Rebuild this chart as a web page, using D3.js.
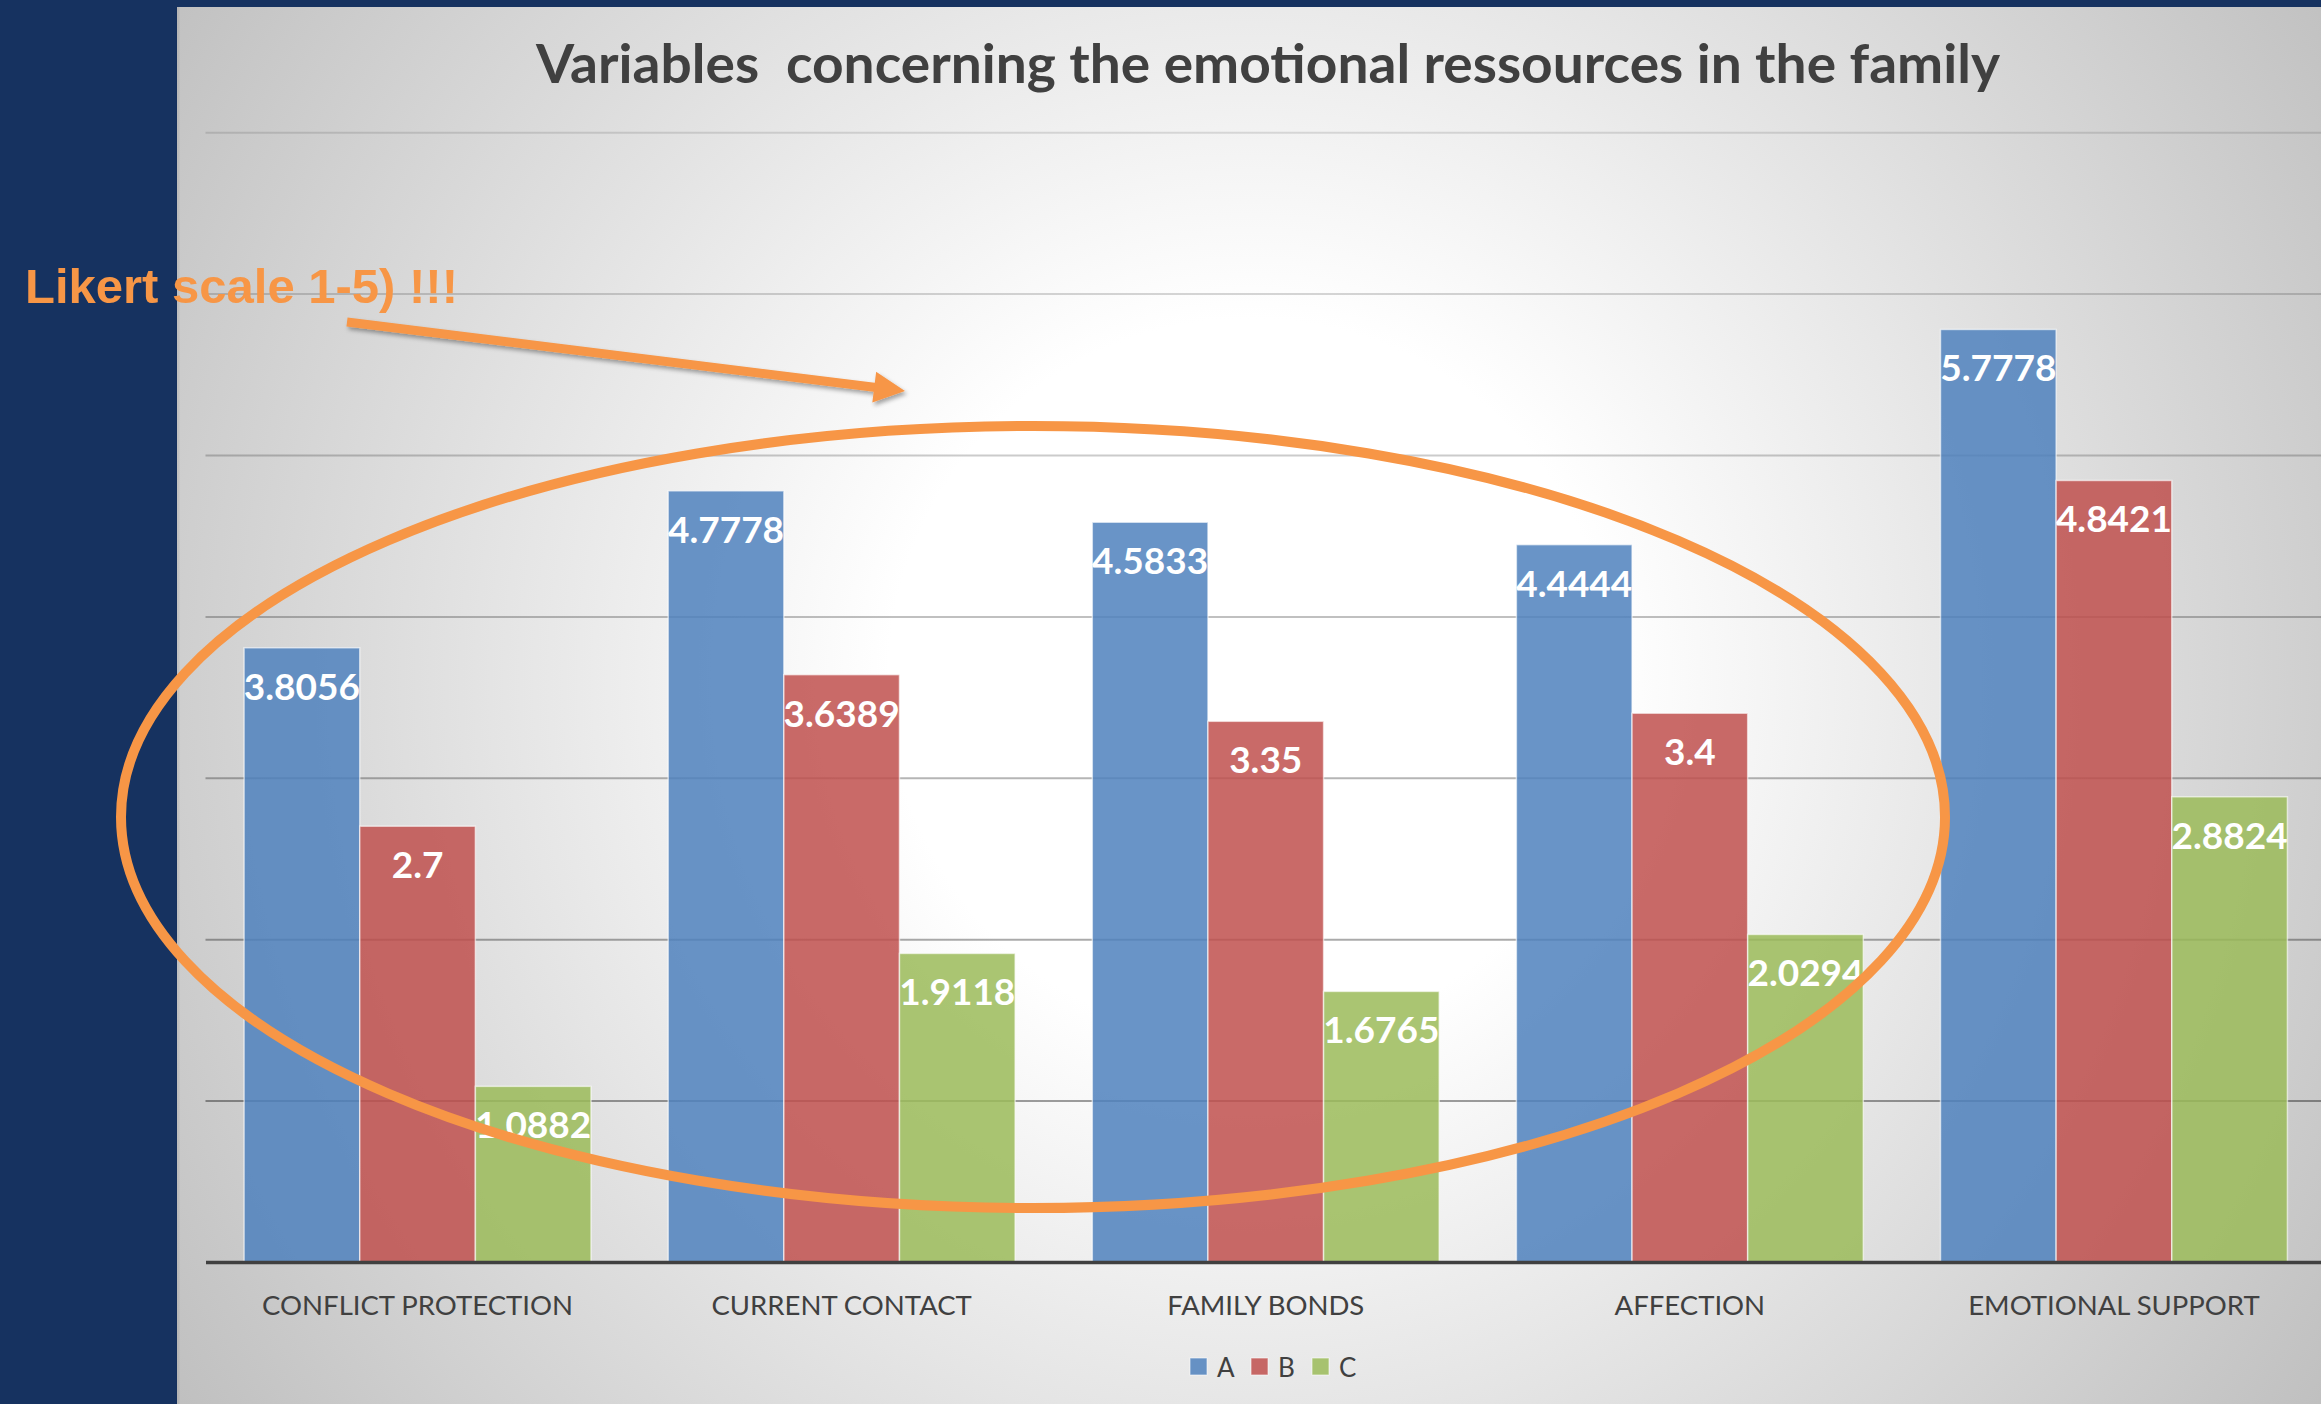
<!DOCTYPE html>
<html>
<head>
<meta charset="utf-8">
<script src="https://cdn.jsdelivr.net/npm/d3@7"></script>
<style>
  html, body { margin: 0; padding: 0; background: #163260; }
  svg { display: block; }
</style>
</head>
<body>
<div id="chart"></div>
<script>

// data
var categories   = [ 'CONFLICT PROTECTION', 'CURRENT CONTACT', 'FAMILY BONDS', 'AFFECTION', 'EMOTIONAL SUPPORT' ];
var series_names = [ 'A', 'B', 'C' ];
var values_a     = [ 3.8056, 4.7778, 4.5833, 4.4444, 5.7778 ];
var values_b     = [ 2.7, 3.6389, 3.35, 3.4, 4.8421 ];
var values_c     = [ 1.0882, 1.9118, 1.6765, 2.0294, 2.8824 ];
var grid_values  = [ 1, 2, 3, 4, 5, 6, 7 ];

var series_values = [ values_a, values_b, values_c ];
var colors        = [ '#4F81BD', '#C0504D', '#9BBB59' ];

// --------------------------------------------------------
// sizes
var chart_width   = 2321;
var chart_height  = 1404;
var panel_left    = 177;
var panel_top     = 7;
var plot_left     = 205.5;
var plot_right    = 2326;
var plot_bottom   = 1262;
var plot_top      = 132.2;

var svg = d3.select('#chart')
	.append('svg')
	.attr('width', chart_width)
	.attr('height', chart_height);

var defs = svg.append('defs');

// radial grey background of the slide chart
var grad = defs.append('radialGradient')
	.attr('id', 'bg-grad')
	.attr('gradientUnits', 'userSpaceOnUse')
	.attr('cx', 1250)
	.attr('cy', 680)
	.attr('r', 1290);
grad.append('stop').attr('offset', 0).attr('stop-color', '#ffffff');
grad.append('stop').attr('offset', 0.28).attr('stop-color', '#ffffff');
grad.append('stop').attr('offset', 1).attr('stop-color', '#c0c0c0');

var shadow = defs.append('filter')
	.attr('id', 'arrow-shadow')
	.attr('x', '-10%').attr('y', '-50%')
	.attr('width', '120%').attr('height', '200%');
shadow.append('feDropShadow')
	.attr('dx', 2).attr('dy', 3)
	.attr('stdDeviation', 2)
	.attr('flood-color', '#000')
	.attr('flood-opacity', 0.35);

svg.append('rect')
	.attr('width', chart_width)
	.attr('height', chart_height)
	.attr('fill', '#163260');

svg.append('rect')
	.attr('x', panel_left)
	.attr('y', panel_top)
	.attr('width', chart_width - panel_left)
	.attr('height', chart_height - panel_top)
	.attr('fill', 'url(#bg-grad)');

svg.append('line')
	.attr('x1', panel_left + 1).attr('x2', panel_left + 1)
	.attr('y1', panel_top).attr('y2', chart_height)
	.attr('stroke', '#000')
	.attr('stroke-opacity', 0.06)
	.attr('stroke-width', 3);

// --------------------------------------------------------
// scales
var x0 = d3.scaleBand()
	.domain(categories)
	.range([plot_left, plot_right])
	.paddingInner(0.182)
	.paddingOuter(0.091);

var x1 = d3.scaleBand()
	.domain(series_names)
	.range([0, x0.bandwidth()]);

var y_scale = d3.scaleLinear()
	.domain([0, 7])
	.range([plot_bottom, plot_top]);

// --------------------------------------------------------
// gridlines, getting darker towards the bottom
var grid_axis = d3.axisLeft(y_scale)
	.tickValues(grid_values)
	.tickSize(-(plot_right - plot_left))
	.tickFormat('');

var grid = svg.append('g')
	.attr('class', 'grid')
	.attr('transform', 'translate(' + plot_left + ',0)')
	.call(grid_axis);
grid.select('.domain').remove();
grid.selectAll('.tick line')
	.attr('stroke', '#000')
	.attr('stroke-width', 2)
	.attr('stroke-opacity', (d) => 0.42 - d * 0.043);

// --------------------------------------------------------
// bars
var rows = categories.map((c, i) => {
	return { cat: c, vals: series_names.map((s, j) => ({ s: s, j: j, v: series_values[j][i] })) };
});

var groups = svg.append('g')
	.attr('id', 'plot-area')
	.selectAll('g')
	.data(rows)
	.enter()
	.append('g')
	.attr('transform', (d) => 'translate(' + x0(d.cat) + ',0)');

groups.selectAll('rect')
	.data((d) => d.vals)
	.enter()
	.append('rect')
	.attr('x', (d) => x1(d.s))
	.attr('y', (d) => y_scale(d.v))
	.attr('width', x1.bandwidth())
	.attr('height', (d) => plot_bottom - y_scale(d.v))
	.attr('fill', (d) => colors[d.j])
	.attr('fill-opacity', 0.85)
	.attr('stroke', '#ffffff')
	.attr('stroke-opacity', 0.6)
	.attr('stroke-width', 1.5);

groups.selectAll('text')
	.data((d) => d.vals)
	.enter()
	.append('text')
	.attr('x', (d) => x1(d.s) + x1.bandwidth() / 2)
	.attr('y', (d) => y_scale(d.v) + 52)
	.attr('text-anchor', 'middle')
	.attr('font-family', 'Lato, sans-serif')
	.attr('font-weight', 'bold')
	.attr('font-size', 37)
	.attr('fill', '#ffffff')
	.text((d) => d.v);

// --------------------------------------------------------
// category axis
var x_axis = d3.axisBottom(x0)
	.tickSize(0)
	.tickSizeOuter(0);

var xg = svg.append('g')
	.attr('class', 'x-axis')
	.attr('transform', 'translate(0,' + plot_bottom + ')')
	.call(x_axis);
xg.select('.domain')
	.attr('stroke', '#404040')
	.attr('stroke-width', 3.5);
xg.selectAll('.tick text')
	.attr('y', 53)
	.attr('dy', null)
	.attr('font-family', 'Lato, sans-serif')
	.attr('font-size', 27.5)
	.attr('fill', '#404040');

// --------------------------------------------------------
// legend
var legend = svg.append('g')
	.attr('transform', 'translate(1190,1358)')
	.selectAll('g')
	.data(series_names)
	.enter()
	.append('g')
	.attr('transform', (d, i) => 'translate(' + i * 61 + ',0)');
legend.append('rect')
	.attr('width', 17)
	.attr('height', 17)
	.attr('fill', (d, i) => colors[i])
	.attr('fill-opacity', 0.85)
	.attr('stroke', '#fff')
	.attr('stroke-opacity', 0.6);
legend.append('text')
	.attr('x', 27)
	.attr('y', 19)
	.attr('font-family', 'Lato, sans-serif')
	.attr('font-size', 26)
	.attr('fill', '#404040')
	.text((d) => d);

// --------------------------------------------------------
// title
svg.append('text')
	.attr('x', 1268)
	.attr('y', 83)
	.attr('text-anchor', 'middle')
	.attr('font-family', 'Lato, sans-serif')
	.attr('font-weight', 'bold')
	.attr('font-size', 53)
	.attr('fill', '#404040')
	.attr('textLength', 1464)
	.attr('lengthAdjust', 'spacingAndGlyphs')
	.style('white-space', 'pre')
	.text('Variables  concerning the emotional ressources in the family');

// --------------------------------------------------------
// orange annotation: note, arrow, ellipse
var orange = '#F79646';

svg.append('text')
	.attr('x', 25)
	.attr('y', 303)
	.attr('font-family', '"Liberation Sans", Arial, sans-serif')
	.attr('font-weight', 'bold')
	.attr('font-size', 49)
	.attr('fill', orange)
	.style('white-space', 'pre')
	.text('Likert scale 1-5) !!!');

var a_start = [347, 322];
var a_tip   = [905, 391];
var head_len = 31, head_half = 15.5;
var ang = Math.atan2(a_tip[1] - a_start[1], a_tip[0] - a_start[0]);
var base = [a_tip[0] - head_len * Math.cos(ang), a_tip[1] - head_len * Math.sin(ang)];
var nx = -Math.sin(ang), ny = Math.cos(ang);

var arrow = svg.append('g').attr('filter', 'url(#arrow-shadow)');
arrow.append('line')
	.attr('x1', a_start[0]).attr('y1', a_start[1])
	.attr('x2', base[0] + 2 * Math.cos(ang)).attr('y2', base[1] + 2 * Math.sin(ang))
	.attr('stroke', orange)
	.attr('stroke-width', 9);
arrow.append('path')
	.attr('d', d3.line()([
		a_tip,
		[base[0] + nx * head_half, base[1] + ny * head_half],
		[base[0] - nx * head_half, base[1] - ny * head_half]
	]) + 'Z')
	.attr('fill', orange);

svg.append('ellipse')
	.attr('cx', 1033)
	.attr('cy', 817)
	.attr('rx', 912)
	.attr('ry', 391)
	.attr('fill', 'none')
	.attr('stroke', orange)
	.attr('stroke-width', 10);

</script>
</body>
</html>
